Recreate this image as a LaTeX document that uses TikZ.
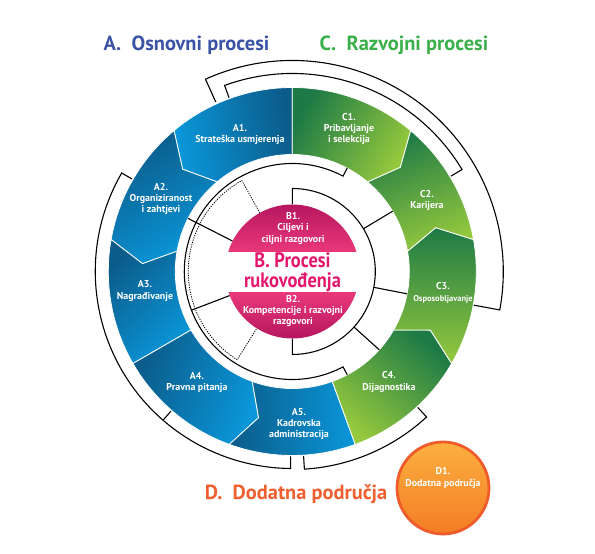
\documentclass[tikz,border=0pt]{standalone}
\usepackage{fontspec}
\setmainfont{PT Sans}
\definecolor{blueDark}{HTML}{0B5B89}
\definecolor{blueLight}{HTML}{0A97DA}
\definecolor{greenDark}{HTML}{1D7A46}
\definecolor{greenLight}{HTML}{96C93D}
\definecolor{magentaDark}{HTML}{B3145E}
\definecolor{magentaLight}{HTML}{E9387A}
\definecolor{titleBlue}{HTML}{3A53A4}
\definecolor{titleGreen}{HTML}{3BAF4A}
\definecolor{titleOrange}{HTML}{EF5F30}
\definecolor{titleMagenta}{HTML}{E3176D}
\definecolor{orangeTop}{HTML}{FBB03F}
\definecolor{orangeBottom}{HTML}{F47C25}
\definecolor{orangeRim}{HTML}{EF5B2A}
\tikzset{
  seglabel/.style={text=white,font=\bfseries\fontsize{10}{11.5}\selectfont,align=center,inner sep=0pt},
  grouptitle/.style={font=\bfseries\fontsize{20.5}{22}\selectfont,anchor=base,inner sep=0pt},
  bracket/.style={black,line width=1.1bp,line join=miter},
  dotline/.style={black,line width=0.8bp,dash pattern=on 1.2bp off 1.2bp},
}
\begin{document}
\begin{tikzpicture}[>=latex,line join=bevel,]
%%
\fill[white] (0bp,0bp) rectangle (595bp,554bp);
\useasboundingbox (0bp,0bp) rectangle (595bp,554bp);
\begin{scope}[shift={(292.3bp,282.5bp)}]
% segments of the wheel
\foreach \lo/\hi/\tlo/\thi/\cd/\cl/\sa in {
    90/130/90/137/blueDark/blueLight/-80,
    130/170/137/177/blueDark/blueLight/30,
    170/210/177/210/blueDark/blueLight/45,
    210/250/210/257/blueDark/blueLight/70,
    250/290/257/290/blueDark/blueLight/90,
    290/330/290/337/greenDark/greenLight/-40,
    330/370/337/377/greenDark/greenLight/0,
    370/410/377/404/greenDark/greenLight/20,
    410/450/404/450/greenDark/greenLight/60}
  \shadedraw[draw=white,line width=0.8bp,top color=\cd,bottom color=\cl,shading angle=\sa]
    (\lo:184bp) arc[start angle=\lo,end angle=\hi,radius=184bp] -- (\thi:150bp) -- (\hi:117bp)
    arc[start angle=\hi,end angle=\lo,radius=117bp] -- (\tlo:150bp) -- cycle;
% outer brackets
\draw[bracket] (150:185bp) -- (150:197bp) arc[start angle=150,end angle=269.5,radius=197bp] -- (269.5:185bp);
\draw[bracket] (229:185bp) -- (229:197bp);
\draw[bracket] (273.5:185bp) -- (273.5:198bp) arc[start angle=273.5,end angle=312.7,radius=198bp] -- (312.7:185bp);
\draw[bracket] (110:185bp) -- (110:198bp) arc[start angle=110,end angle=31,radius=198bp] -- (31:185bp);
\draw[bracket] (114.3:186bp) -- (114.3:211bp) arc[start angle=114.3,end angle=-10.5,radius=211bp] -- (-10.5:185bp);
% inner brackets
\draw[bracket] (62:117bp) -- (62:108bp) arc[start angle=62,end angle=298,radius=108bp] -- (298:117bp);
\draw[dotline] (119:67bp) -- (119:104bp) arc[start angle=119,end angle=238,radius=104bp] -- (238:67bp);
\draw[bracket] (153:67bp) -- (153:117bp);
\draw[bracket] (201:67bp) -- (201:108bp);
\draw[bracket] (90:67bp) -- (90:83bp) arc[start angle=90,end angle=-90,radius=83bp] -- (-90:67bp);
\foreach \a in {31,-11,-42}
  \draw[bracket] (\a:83bp) -- (\a:117bp);
% centre disc
\fill[white] (0bp,0bp) circle[radius=67bp];
\begin{scope}
  \clip (0bp,0bp) circle[radius=67bp];
  \shade[top color=magentaDark,bottom color=magentaLight] (-70bp,19.5bp) rectangle (70bp,70bp);
  \shade[top color=magentaLight,bottom color=magentaDark] (-70bp,-70bp) rectangle (70bp,-21.5bp);
\end{scope}
\end{scope}
%
\node (node_a1) at (240.0bp,419.5bp) [seglabel] {A1.\\Strateška usmjerenja};
\node (node_a2) at (161.0bp,355.0bp) [seglabel] {A2.\\Organiziranost\\i zahtjevi};
\node (node_a3) at (145.0bp,263.0bp) [seglabel] {A3.\\Nagrađivanje};
\node (node_a4) at (197.0bp,171.5bp) [seglabel] {A4.\\Pravna pitanja};
\node (node_a5) at (299.0bp,130.0bp) [seglabel] {A5.\\Kadrovska\\administracija};
\node (node_c1) at (349.0bp,425.0bp) [seglabel] {C1.\\Pribavljanje\\i selekcija};
\node (node_c2) at (427.0bp,353.5bp) [seglabel] {C2.\\Karijera};
\node (node_c3) at (443.0bp,261.0bp) [seglabel] {C3.\\{\fontsize{8.5}{10}\selectfont Osposobljavanje}};
\node (node_c4) at (389.0bp,172.0bp) [seglabel] {C4.\\Dijagnostika};
\node (node_b1) at (293.0bp,325.5bp) [seglabel] {B1.\\Ciljevi i\\ciljni razgovori};
\node (node_b2) at (293.0bp,243.0bp) [seglabel] {B2.\\Kompetencije i razvojni\\razgovori};
\node (node_b) at (292.5bp,282.0bp) [text=titleMagenta,font=\bfseries\fontsize{21}{20}\selectfont,align=center,inner sep=0pt]
  {\scalebox{0.88}[1]{B. Procesi}\\\scalebox{0.88}[1]{rukovođenja}};
\node (node_d) at (443.0bp,66.0bp) [circle,minimum size=92bp,draw=orangeRim,line width=2.8bp,top color=orangeTop,bottom color=orangeBottom] {};
\node (node_d1) at (443.0bp,76.0bp) [seglabel] {D1.\\Dodatna područja};
%
\node (node_ta) at (186.5bp,503.0bp) [grouptitle,text=titleBlue] {A.\ \ Osnovni procesi};
\node (node_tc) at (404.0bp,503.0bp) [grouptitle,text=titleGreen] {C.\ \ Razvojni procesi};
\node (node_td) at (296.0bp,54.0bp) [grouptitle,text=titleOrange] {D.\ \ Dodatna područja};
%
\end{tikzpicture}
\end{document}
